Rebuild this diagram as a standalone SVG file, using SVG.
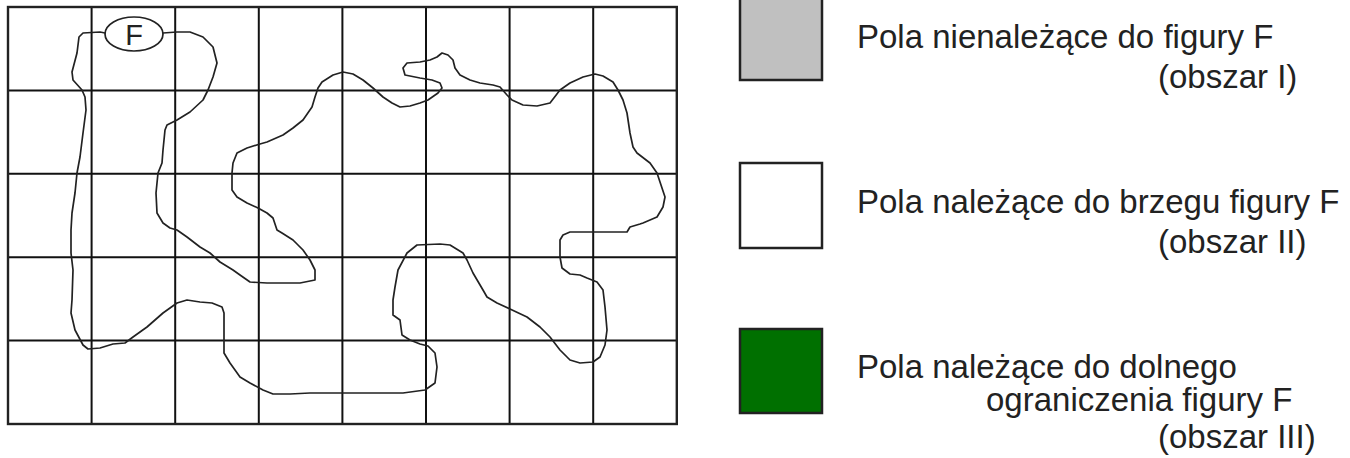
<svg xmlns="http://www.w3.org/2000/svg" width="1350" height="458" viewBox="0 0 1350 458">
<style>
.grid line{stroke:#111;stroke-width:2}
.thick{stroke:#000;stroke-width:3.5}
.border{fill:none;stroke:#222;stroke-width:2.4}
.curve{fill:none;stroke:#222;stroke-width:1.7;stroke-linejoin:round;stroke-linecap:round}
.lbl{font-family:"Liberation Sans",Arial,sans-serif;font-size:33px;fill:#222}
.box{stroke:#222;stroke-width:2.5}
</style>
<rect width="1350" height="458" fill="#fff"/>
<g id="grid" class="grid">
<line x1="91.6" y1="7" x2="91.6" y2="424"/>
<line x1="175.2" y1="7" x2="175.2" y2="424"/>
<line x1="342.4" y1="7" x2="342.4" y2="424"/>
<line x1="426" y1="7" x2="426" y2="424"/>
<line x1="509.6" y1="7" x2="509.6" y2="424"/>
<line x1="593.2" y1="7" x2="593.2" y2="424"/>
<line x1="8" y1="90.4" x2="676.8" y2="90.4"/>
<line x1="8" y1="173.8" x2="676.8" y2="173.8"/>
<line x1="8" y1="257.2" x2="676.8" y2="257.2"/>
<line x1="8" y1="340.6" x2="676.8" y2="340.6"/>
<line class="thick" x1="258.8" y1="7" x2="258.8" y2="424"/>
<rect class="border" x="8" y="7" width="668.8" height="417"/>
</g>
<g id="figure-F">
<path class="curve" d="M163,33 L177,32 190,32 203,37 213,47 217,63 213,77 208,90 203,100 190,112 177,120 167,125 165,130 163,150 162,163 158,173 156,193 157,213 163,223 170,228 177,230 187,237 200,247 210,253 220,262 233,270 240,275 250,282 267,283 283,283 300,283 315,280 315,270 310,260 303,250 293,240 282,233 277,230 273,218 267,213 258,208 247,203 237,197 232,190 232,173 233,163 237,153 247,148 260,144 267,142 283,135 293,128 303,120 312,107 315,97 318,88 322,82 333,75 343,72 353,74 363,80 373,88 383,97 392,103 400,107 410,106 420,103 428,100 438,93 442,88 440,83 432,80 420,78 405,75 403,68 407,63 420,62 430,60 437,57 442,53 448,55 453,60 455,68 460,75 470,80 480,83 493,85 500,87 507,95 512,100 523,105 537,106 550,103 560,90 570,83 583,77 595,74 603,76 613,82 618,90 623,100 627,113 630,133 633,147 637,153 650,163 657,173 662,188 665,197 663,207 657,217 643,223 640,224 630,227 627,232 593,232 570,232 563,235 560,240 560,257 562,268 570,274 580,275 587,278 597,282 603,290 605,307 607,330 605,345 600,357 593,362 580,363 570,360 560,350 550,337 540,327 527,317 510,309 497,303 487,297 483,290 473,273 467,260 463,253 450,245 440,244 417,245 407,253 398,270 395,287 393,300 393,315 400,320 402,335 410,340 420,344 428,346 435,353 437,367 435,383 425,390 403,393 350,393 310,393 290,394 273,394 263,390 250,383 240,377 230,363 224,353 224,327 224,313 222,307 212,303 200,302 187,300 177,303 163,313 147,327 133,337 125,343 113,344 100,348 88,349 83,345 75,330 71,313 72,300 73,270 71,253 71,230 72,213 75,193 77,173 80,157 83,133 86,110 85,97 82,90 73,80 72,72 77,53 79,37 83,33 100,32 105,33"/>
<ellipse class="curve" cx="134" cy="34" rx="29" ry="17" fill="#fff"/>
<text x="134" y="45" text-anchor="middle" style="font-family:'Liberation Sans',Arial,sans-serif;font-size:29px;fill:#222">F</text>
</g>
<g id="legend-1">
<rect class="box" x="740" y="-3" width="82" height="83" fill="#c0c0c0"/>
<text class="lbl" x="857" y="48">Pola nienależące do figury F</text>
<text class="lbl" x="1158" y="88">(obszar I)</text>
</g>
<g id="legend-2">
<rect class="box" x="740" y="163" width="82" height="85" fill="#fff"/>
<text class="lbl" x="857" y="213">Pola należące do brzegu figury F</text>
<text class="lbl" x="1158" y="253">(obszar II)</text>
</g>
<g id="legend-3">
<rect class="box" x="740" y="329" width="82" height="84" fill="#007000"/>
<text class="lbl" x="857" y="378">Pola należące do dolnego</text>
<text class="lbl" x="986" y="411">ograniczenia figury F</text>
<text class="lbl" x="1158" y="448">(obszar III)</text>
</g>
</svg>
